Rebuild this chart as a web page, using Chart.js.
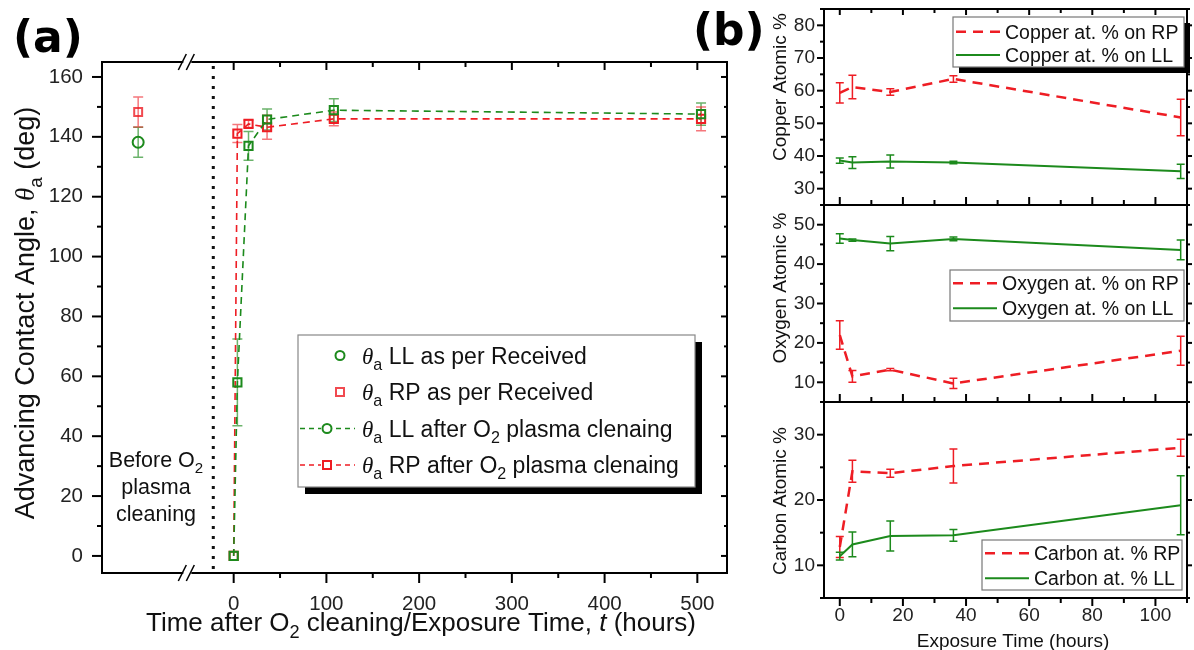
<!DOCTYPE html>
<html>
<head>
<meta charset="utf-8">
<script src="https://cdn.jsdelivr.net/npm/chart.js@4.4.1/dist/chart.umd.min.js"></script>
<style>
  html, body { margin: 0; padding: 0; background: #fff; }
  #wrap { position: relative; width: 1194px; height: 650px; overflow: hidden; }
  canvas { position: absolute; }
</style>
</head>
<body>
<div id="wrap">
  <canvas id="chartA" width="1194" height="650" style="left:0;top:0"></canvas>
  <canvas id="chartCu" width="454" height="205" style="left:740px;top:0"></canvas>
  <canvas id="chartO" width="454" height="197" style="left:740px;top:205px"></canvas>
  <canvas id="chartC" width="454" height="248" style="left:740px;top:402px"></canvas>
</div>
<script>
// ---- (a) advancing contact angle
let beforePos = -103            // x slot used for the "before cleaning" points (left of the break)
let beforeLL = [138.2]
let beforeLLErr = [5.0]
let beforeRP = [148.3]
let beforeRPErr = [5.0]
let hoursA = [0, 4, 16, 36, 108, 504]
let llAfter = [0, 58, 137, 145.8, 148.9, 147.6]
let llAfterErr = [0, 14.5, 4.8, 3.5, 3.8, 3.7]
let rpAfter = [0, 141.1, 144.3, 143.2, 146.0, 146.0]
let rpAfterErr = [0, 3.0, 1.2, 4.0, 2.3, 4.0]
let xTicksA = [0, 100, 200, 300, 400, 500]
let yTicksA = [0, 20, 40, 60, 80, 100, 120, 140, 160]

// ---- (b) XPS atomic %
let hoursB = [0, 4, 16, 36, 108]
let cuRP = [59.3, 61.1, 59.6, 63.6, 51.8]
let cuRPErr = [3.1, 3.6, 1.0, 1.0, 5.6]
let cuLL = [38.6, 38.0, 38.3, 38.0, 35.3]
let cuLLErr = [0.8, 1.8, 2.0, 0.4, 2.2]
let oRP = [22.0, 11.5, 13.2, 9.7, 18.0]
let oRPErr = [3.6, 1.5, 0.3, 1.3, 3.7]
let oLL = [46.5, 46.1, 45.2, 46.4, 43.6]
let oLLErr = [1.2, 0.3, 1.8, 0.5, 2.5]
let cRP = [12.8, 24.4, 24.1, 25.2, 28.0]
let cRPErr = [1.6, 1.7, 0.6, 2.6, 1.3]
let cLL = [11.4, 13.2, 14.5, 14.6, 19.2]
let cLLErr = [0.6, 1.9, 2.3, 0.9, 4.5]
let xTicksB = [0, 20, 40, 60, 80, 100]
let yTicksCu = [30, 40, 50, 60, 70, 80]
let yTicksO = [10, 20, 30, 40, 50]
let yTicksC = [10, 20, 30]

let FONT = '"Liberation Sans", Arial, sans-serif'
let SERIF = '"Liberation Serif", "Times New Roman", serif'
let RED = '#ee1d24'
let GREEN = '#1c8a1c'
let RED_LT = 'rgba(238,29,36,0.6)'
let GREEN_LT = 'rgba(28,138,28,0.65)'

Chart.defaults.font.family = FONT
Chart.defaults.color = '#222'

let pts = (xs, ys) => xs.map((x, i) => ({ x: x, y: ys[i] }))
let sans = s => s + 'px ' + FONT

// "θ_a LL after O_2 ..." -> pieces with italic theta and subscripts
function rich(str, size) {
    let parts = []
    str.split(/(θ|_\w|\*\w+\*)/).forEach(t => {
        if (!t) return
        if (t === 'θ') parts.push({ t: t, f: 'italic ' + size + 'px ' + SERIF })
        else if (t[0] === '_') parts.push({ t: t.slice(1), f: sans(size * 0.7), dy: size * 0.28 })
        else if (t[0] === '*') parts.push({ t: t.slice(1, -1), f: 'italic ' + sans(size) })
        else parts.push({ t: t, f: sans(size) })
    })
    return parts
}
function drawParts(ctx, parts, x, y, align) {
    let w = 0
    parts.forEach(p => { ctx.font = p.f; w += ctx.measureText(p.t).width })
    let cx = align === 'center' ? x - w / 2 : x
    ctx.textAlign = 'left'
    ctx.textBaseline = 'alphabetic'
    parts.forEach(p => {
        ctx.font = p.f
        ctx.fillText(p.t, cx, y + (p.dy || 0))
        cx += ctx.measureText(p.t).width
    })
    return w
}
function line(ctx, x1, y1, x2, y2) {
    ctx.beginPath(); ctx.moveTo(x1, y1); ctx.lineTo(x2, y2); ctx.stroke()
}
function marker(ctx, kind, x, y, r, color) {
    ctx.save()
    ctx.strokeStyle = color; ctx.lineWidth = 2; ctx.setLineDash([])
    ctx.beginPath()
    if (kind === 'circle') ctx.arc(x, y, r, 0, Math.PI * 2)
    else ctx.rect(x - r, y - r, 2 * r, 2 * r)
    ctx.stroke()
    ctx.restore()
}
// minor tick values half way between the major ones, inside the scale
function minors(ticks, scale) {
    let step = ticks[1] - ticks[0]
    let out = []
    for (let v = ticks[0] - step / 2; v <= scale.max; v += step) if (v >= scale.min) out.push(v)
    return out
}
// fixed axis size, no extra room for the edge labels
function fixSize(prop, size) {
    return s => {
        s[prop] = size
        s.paddingTop = 0; s.paddingBottom = 0; s.paddingLeft = 0; s.paddingRight = 0
    }
}

// error bars, under the markers
let errorBars = {
    id: 'errorBars',
    beforeDatasetsDraw(chart, args, opts) {
        let ctx = chart.ctx
        chart.data.datasets.forEach((ds, i) => {
            if (!ds.err) return
            let meta = chart.getDatasetMeta(i)
            let xs = chart.scales[meta.xAxisID], ys = chart.scales[meta.yAxisID]
            ctx.save()
            ctx.strokeStyle = ds.errColor
            ctx.lineWidth = 1.5
            ds.data.forEach((p, j) => {
                let e = ds.err[j]
                if (!e) return
                let px = xs.getPixelForValue(p.x)
                let top = ys.getPixelForValue(p.y + e), bot = ys.getPixelForValue(p.y - e)
                ctx.beginPath()
                ctx.moveTo(px, top); ctx.lineTo(px, bot)
                ctx.moveTo(px - opts.cap, top); ctx.lineTo(px + opts.cap, top)
                ctx.moveTo(px - opts.cap, bot); ctx.lineTo(px + opts.cap, bot)
                ctx.stroke()
            })
            ctx.restore()
        })
    }
}

// frame, broken axis, legend and texts of panel (a)
let frameA = {
    id: 'frameA',
    beforeDatasetsDraw(chart) {
        let { ctx, chartArea: a, scales: { x } } = chart
        ctx.save()
        ctx.strokeStyle = '#111'; ctx.lineWidth = 3; ctx.setLineDash([3, 7])
        let dx = x.getPixelForValue(-22)
        line(ctx, dx, a.top + 4, dx, a.bottom)
        ctx.restore()
    },
    afterDraw(chart) {
        let { ctx, chartArea: a, scales: { x, y } } = chart
        ctx.save()
        ctx.strokeStyle = '#000'; ctx.lineWidth = 2
        let bx = x.getPixelForValue(-50)
        line(ctx, a.left, a.top - 1, a.left, a.bottom + 1)
        line(ctx, a.right, a.top - 1, a.right, a.bottom + 1)
        ;[a.top, a.bottom].forEach(yy => {
            line(ctx, a.left, yy, bx - 4, yy)
            line(ctx, bx + 4, yy, a.right, yy)
            ctx.lineWidth = 1.5
            line(ctx, bx - 9, yy + 8, bx - 1, yy - 8)
            line(ctx, bx - 1, yy + 8, bx + 7, yy - 8)
            ctx.lineWidth = 2
        })
        // ticks
        yTicksA.forEach(v => {
            let p = y.getPixelForValue(v)
            line(ctx, a.left - 10, p, a.left, p)
            line(ctx, a.right - 6, p, a.right, p)
        })
        minors(yTicksA, y).forEach(v => {
            let p = y.getPixelForValue(v)
            line(ctx, a.left - 5, p, a.left, p)
            line(ctx, a.right - 3, p, a.right, p)
        })
        xTicksA.forEach(v => {
            let p = x.getPixelForValue(v)
            line(ctx, p, a.bottom, p, a.bottom + 10)
            line(ctx, p, a.top, p, a.top + 8)
        })
        minors(xTicksA, x).filter(v => v > 0).forEach(v => {
            let p = x.getPixelForValue(v)
            line(ctx, p, a.bottom, p, a.bottom + 5)
            line(ctx, p, a.top, p, a.top + 5)
        })

        // legend
        let lg = { x: 298, y: 335, w: 397, h: 152 }
        ctx.fillStyle = '#000'; ctx.fillRect(lg.x + 7, lg.y + 7, lg.w, lg.h)
        ctx.fillStyle = '#fff'; ctx.fillRect(lg.x, lg.y, lg.w, lg.h)
        ctx.strokeStyle = '#888'; ctx.lineWidth = 1.2; ctx.strokeRect(lg.x, lg.y, lg.w, lg.h)
        let rows = [
            { ds: 2, mk: 'circle', r: 4.5, ln: false },
            { ds: 3, mk: 'rect', r: 4, ln: false },
            { ds: 0, mk: 'circle', r: 4.5, ln: true },
            { ds: 1, mk: 'rect', r: 4, ln: true }
        ]
        rows.forEach((r, i) => {
            let ds = chart.data.datasets[r.ds]
            let ry = 355.5 + i * 36.5
            if (r.ln) {
                ctx.save()
                ctx.strokeStyle = ds.borderColor; ctx.lineWidth = 1.6; ctx.setLineDash([5, 4])
                line(ctx, lg.x + 2, ry, lg.x + 57, ry)
                ctx.restore()
                ctx.fillStyle = '#fff'; ctx.fillRect(lg.x + 29 - 6, ry - 6, 12, 12)
                marker(ctx, r.mk, lg.x + 29, ry, r.r, ds.pointBorderColor)
            } else {
                marker(ctx, r.mk, lg.x + 42, ry, r.r, ds.pointBorderColor)
            }
            ctx.fillStyle = '#111'
            drawParts(ctx, rich(ds.label, 23), 362, ry + 8)
        })

        // texts
        ctx.fillStyle = '#111'
        drawParts(ctx, rich('Before O_2', 21.5), 156, 467, 'center')
        drawParts(ctx, rich('plasma', 21.5), 156, 494, 'center')
        drawParts(ctx, rich('cleaning', 21.5), 156, 521, 'center')
        drawParts(ctx, rich('Time after O_2 cleaning/Exposure Time, *t* (hours)', 26), 421, 631, 'center')
        ctx.save()
        ctx.translate(34, 313); ctx.rotate(-Math.PI / 2)
        drawParts(ctx, rich('Advancing Contact Angle, θ_a (deg)', 27), 0, 0, 'center')
        ctx.restore()
        ctx.fillStyle = '#000'
        ctx.font = 'bold 44px "DejaVu Sans", sans-serif'
        ctx.fillText('(a)', 13, 52)
        ctx.fillText('(b)', 693, 45)
        ctx.restore()
    }
}

let ctxA = document.getElementById('chartA').getContext('2d')
let chartA = new Chart(ctxA, {
    type: 'scatter',
    data: {
        datasets: [{
            label: 'θ_a LL after O_2 plasma clenaing',
            data: pts(hoursA, llAfter), err: llAfterErr, errColor: GREEN_LT,
            showLine: true, borderColor: GREEN, borderWidth: 1.6, borderDash: [7, 5],
            pointStyle: 'rect', pointRadius: 5.8, pointBorderWidth: 2,
            pointBorderColor: GREEN, pointBackgroundColor: 'rgba(0,0,0,0)', order: 0
        }, {
            label: 'θ_a RP after O_2 plasma clenaing',
            data: pts(hoursA, rpAfter), err: rpAfterErr, errColor: RED_LT,
            showLine: true, borderColor: RED, borderWidth: 1.6, borderDash: [7, 5],
            pointStyle: 'rect', pointRadius: 5.8, pointBorderWidth: 2,
            pointBorderColor: RED, pointBackgroundColor: 'rgba(0,0,0,0)', order: 1
        }, {
            label: 'θ_a LL as per Received',
            data: pts([beforePos], beforeLL), err: beforeLLErr, errColor: GREEN_LT,
            pointStyle: 'circle', pointRadius: 5.5, pointBorderWidth: 2,
            pointBorderColor: GREEN, pointBackgroundColor: 'rgba(0,0,0,0)', order: 2
        }, {
            label: 'θ_a RP as per Received',
            data: pts([beforePos], beforeRP), err: beforeRPErr, errColor: RED_LT,
            pointStyle: 'rect', pointRadius: 5.6, pointBorderWidth: 2,
            pointBorderColor: 'rgba(238,29,36,0.8)', pointBackgroundColor: 'rgba(0,0,0,0)', order: 3
        }]
    },
    options: {
        responsive: false, animation: false, devicePixelRatio: 1, events: [],
        layout: { padding: { left: 0, top: 62, right: 1194 - 727, bottom: 0 } },
        plugins: { legend: { display: false }, tooltip: { enabled: false }, errorBars: { cap: 5 } },
        scales: {
            x: {
                type: 'linear', min: -142, max: 532,
                afterBuildTicks: s => { s.ticks = xTicksA.map(v => ({ value: v })) },
                afterFit: fixSize('height', 77),
                grid: { display: false, drawTicks: false }, border: { display: false },
                ticks: { font: { size: 20.5 }, padding: 19, maxRotation: 0, autoSkip: false }
            },
            y: {
                min: -5.7, max: 165,
                afterBuildTicks: s => { s.ticks = yTicksA.map(v => ({ value: v })) },
                afterFit: fixSize('width', 102),
                grid: { display: false, drawTicks: false }, border: { display: false },
                ticks: { font: { size: 20.5 }, padding: 19 }
            }
        }
    },
    plugins: [errorBars, frameA]
})

// frame, ticks, legend and titles of one (b) panel
let frameB = {
    id: 'frameB',
    afterDraw(chart, args, o) {
        let { ctx, chartArea: a, scales: { x, y } } = chart
        ctx.save()
        ctx.strokeStyle = '#000'; ctx.lineWidth = 2
        ctx.strokeRect(a.left, a.top, a.right - a.left, a.bottom - a.top)
        o.yTicks.forEach(v => {
            let p = y.getPixelForValue(v)
            line(ctx, a.left - 7, p, a.left, p)
            line(ctx, a.right, p, a.right + 5, p)
        })
        minors(o.yTicks, y).forEach(v => {
            let p = y.getPixelForValue(v)
            line(ctx, a.left - 4, p, a.left, p)
            line(ctx, a.right, p, a.right + 3, p)
        })
        let dir = o.bottomOut ? 1 : -1
        xTicksB.forEach(v => {
            let p = x.getPixelForValue(v)
            line(ctx, p, a.bottom, p, a.bottom + dir * 8)
            if (o.topTicks) line(ctx, p, a.top, p, a.top + 6)
        })
        minors(xTicksB, x).filter(v => v > 0).forEach(v => {
            let p = x.getPixelForValue(v)
            line(ctx, p, a.bottom, p, a.bottom + dir * 5)
            if (o.topTicks) line(ctx, p, a.top, p, a.top + 4)
        })

        // legend
        let lg = o.legend
        if (lg.shadow) { ctx.fillStyle = '#000'; ctx.fillRect(lg.x + 6, lg.y + 6, lg.w, lg.h) }
        ctx.fillStyle = '#fff'; ctx.fillRect(lg.x, lg.y, lg.w, lg.h)
        ctx.strokeStyle = '#777'; ctx.lineWidth = 1.2; ctx.strokeRect(lg.x, lg.y, lg.w, lg.h)
        chart.data.datasets.forEach((ds, i) => {
            let ry = lg.rows[i]
            ctx.save()
            ctx.strokeStyle = ds.borderColor; ctx.lineWidth = ds.borderWidth
            ctx.setLineDash(ds.borderDash || [])
            line(ctx, lg.x + 3, ry, lg.x + 47, ry)
            ctx.restore()
            ctx.fillStyle = '#111'
            drawParts(ctx, rich(ds.label, 19.5), lg.x + 52, ry + 7)
        })

        ctx.fillStyle = '#111'
        ctx.save()
        ctx.translate(o.titleX, o.titleY); ctx.rotate(-Math.PI / 2)
        drawParts(ctx, rich(o.title, 19), 0, 0, 'center')
        ctx.restore()
        if (o.xTitle) drawParts(ctx, rich(o.xTitle, 19), 273, 245, 'center')
        ctx.restore()
    }
}

function createPanelB(id, sets, yRange, yTicks, frame, withX) {
    let ctx = document.getElementById(id).getContext('2d')
    let h = ctx.canvas.height
    return new Chart(ctx, {
        type: 'scatter',
        data: {
            datasets: [{
                label: sets.rpLabel, data: pts(hoursB, sets.rp), err: sets.rpErr, errColor: RED,
                showLine: true, borderColor: RED, borderWidth: 2.5, borderDash: [10, 7], pointRadius: 0
            }, {
                label: sets.llLabel, data: pts(hoursB, sets.ll), err: sets.llErr, errColor: GREEN,
                showLine: true, borderColor: GREEN, borderWidth: 2, pointRadius: 0
            }]
        },
        options: {
            responsive: false, animation: false, devicePixelRatio: 1, events: [],
            layout: { padding: { left: 0, top: frame.padTop, right: 7, bottom: 0 } },
            plugins: {
                legend: { display: false }, tooltip: { enabled: false },
                errorBars: { cap: 4 }, frameB: Object.assign({ yTicks: yTicks }, frame)
            },
            scales: {
                x: {
                    type: 'linear', min: -5, max: 110, display: withX,
                    afterBuildTicks: s => { s.ticks = xTicksB.map(v => ({ value: v })) },
                    afterFit: fixSize('height', withX ? h - 196 : 0),
                    grid: { display: false, drawTicks: false }, border: { display: false },
                    ticks: { font: { size: 19 }, padding: 6, maxRotation: 0, autoSkip: false }
                },
                y: {
                    min: yRange[0], max: yRange[1],
                    afterBuildTicks: s => { s.ticks = yTicks.map(v => ({ value: v })) },
                    afterFit: fixSize('width', 84),
                    grid: { display: false, drawTicks: false }, border: { display: false },
                    ticks: { font: { size: 19 }, padding: 9 }
                }
            }
        },
        plugins: [errorBars, frameB]
    })
}

let cuChart = createPanelB('chartCu',
    { rp: cuRP, rpErr: cuRPErr, ll: cuLL, llErr: cuLLErr,
      rpLabel: 'Copper at. % on RP', llLabel: 'Copper at. % on LL' },
    [25, 85], yTicksCu,
    { padTop: 9, title: 'Copper Atomic %', titleX: 46, titleY: 87, topTicks: true, bottomOut: false,
      legend: { x: 213, y: 17, w: 231, h: 50, shadow: true, rows: [31.7, 55] } }, false)
let oChart = createPanelB('chartO',
    { rp: oRP, rpErr: oRPErr, ll: oLL, llErr: oLLErr,
      rpLabel: 'Oxygen at. % on RP', llLabel: 'Oxygen at. % on LL' },
    [5, 55], yTicksO,
    { padTop: 0, title: 'Oxygen Atomic %', titleX: 46, titleY: 83, topTicks: false, bottomOut: false,
      legend: { x: 210, y: 65, w: 234, h: 51, shadow: false, rows: [78.3, 103.3] } }, false)
let cChart = createPanelB('chartC',
    { rp: cRP, rpErr: cRPErr, ll: cLL, llErr: cLLErr,
      rpLabel: 'Carbon at. % RP', llLabel: 'Carbon at. % LL' },
    [5, 35], yTicksC,
    { padTop: 0, title: 'Carbon Atomic %', titleX: 46, titleY: 99, topTicks: false, bottomOut: true,
      xTitle: 'Exposure Time (hours)',
      legend: { x: 242, y: 138, w: 200, h: 50, shadow: false, rows: [151.3, 176.3] } }, true)
</script>
</body>
</html>
